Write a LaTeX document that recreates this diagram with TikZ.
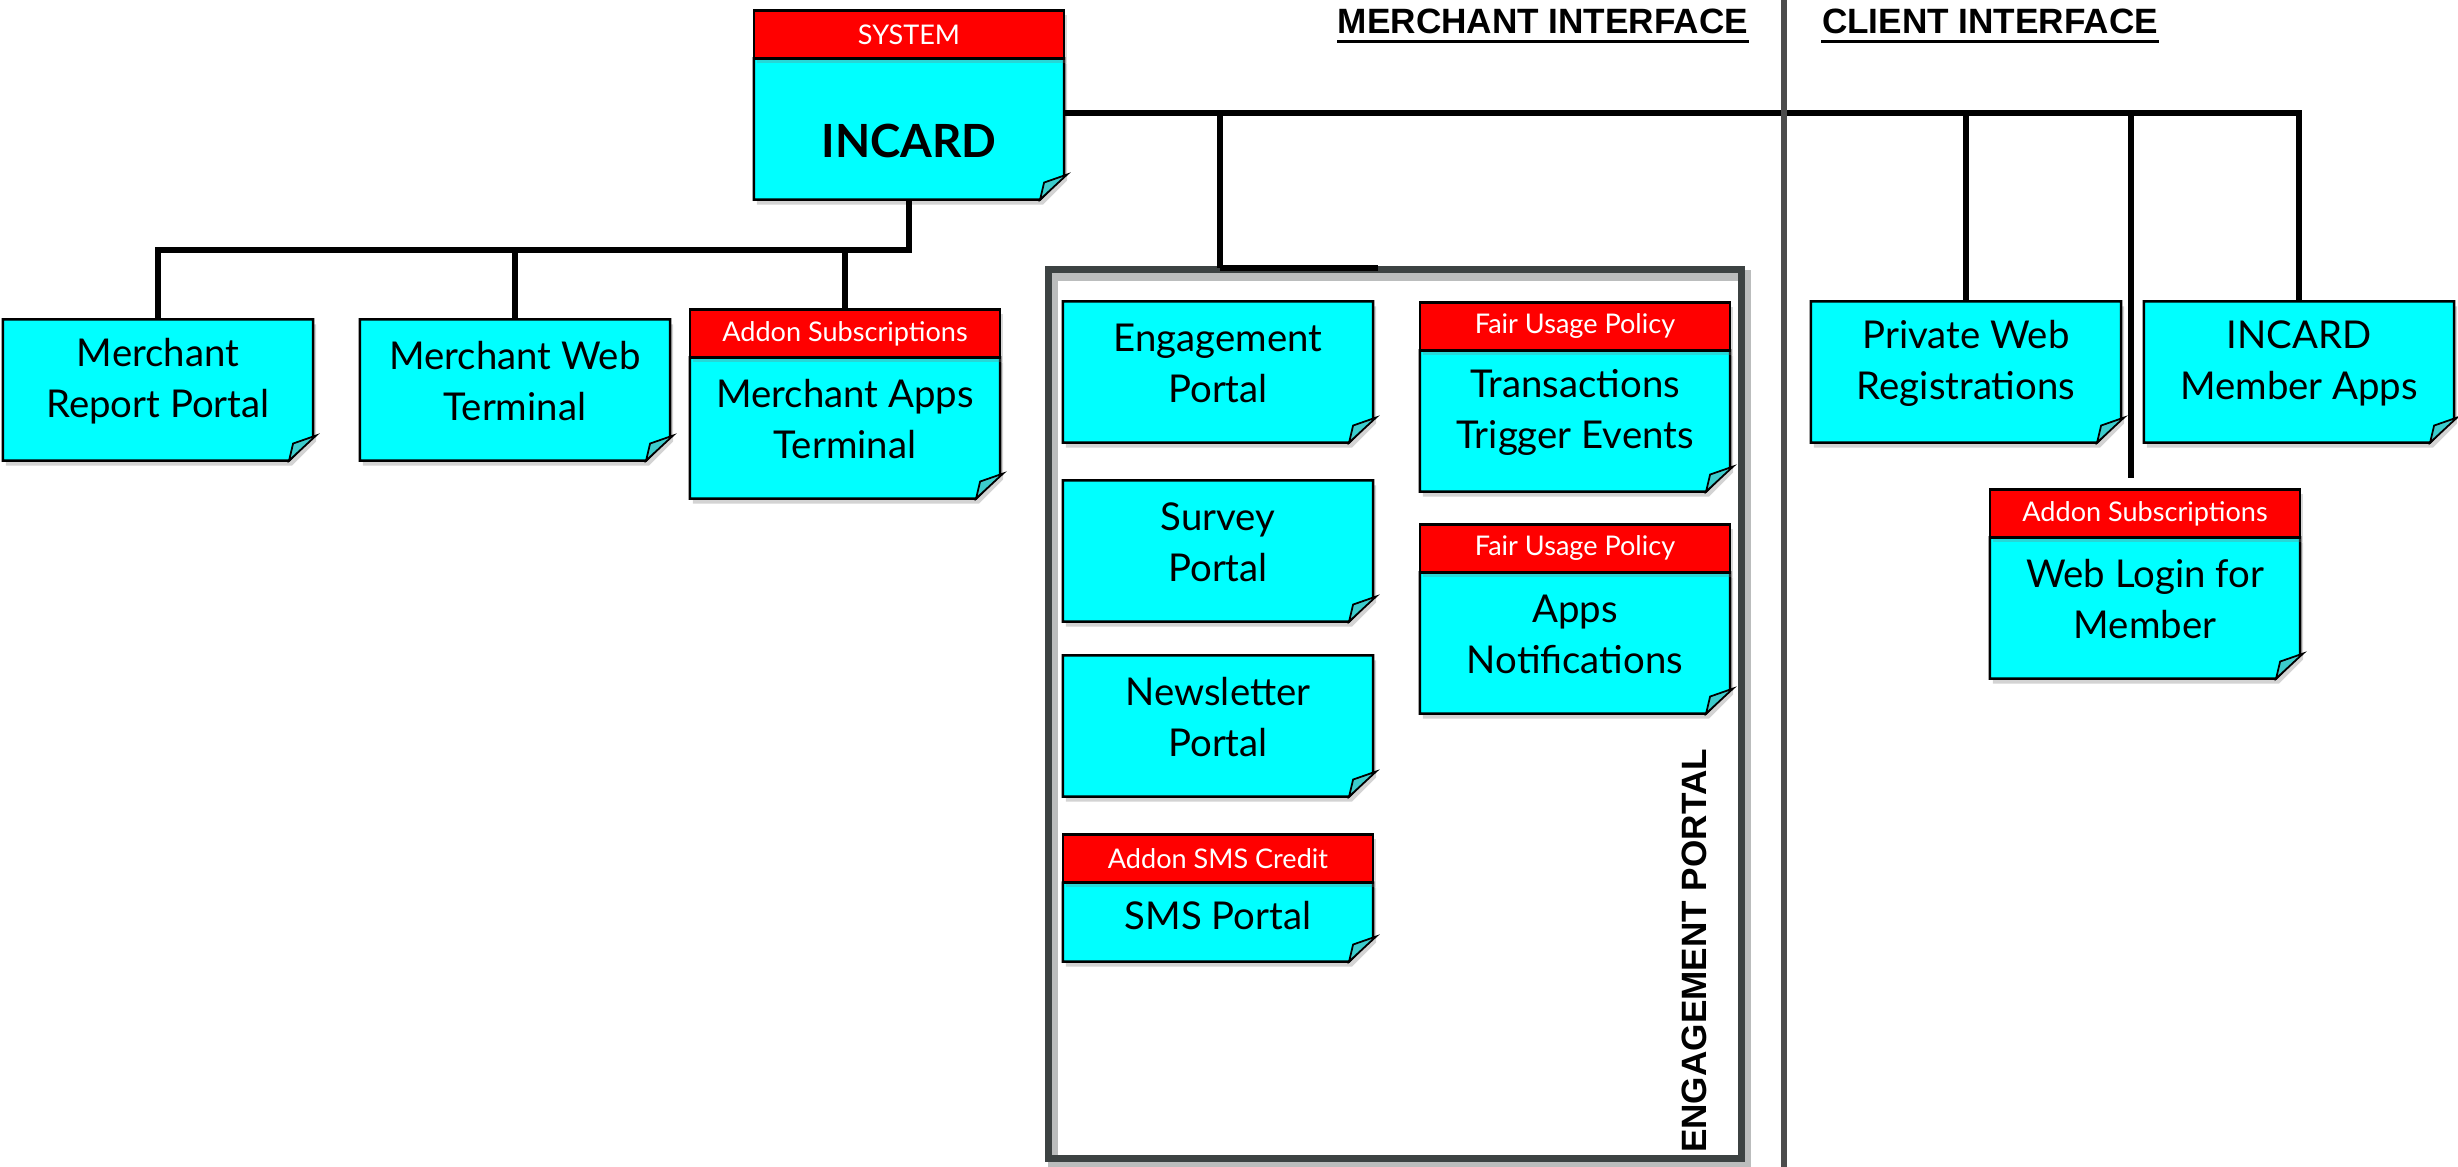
\documentclass[tikz,border=0pt]{standalone}
\usepackage{fontspec}
\setmainfont{Lato}
\newfontfamily\headfont{Liberation Sans}
\usetikzlibrary{positioning,backgrounds,shadows}

\definecolor{notecyan}{HTML}{00FFFF}
\definecolor{flapcyan}{HTML}{3CCCCC}
\definecolor{tagred}{HTML}{FF0000}
\definecolor{portalgray}{HTML}{3C4242}

\tikzstyle{sticky}=[minimum width=3.1cm,minimum height=1.41cm,inner sep=0pt,outer sep=0pt]
\tikzstyle{stickytext}=[inner sep=0pt,align=center,font={\fontsize{10.9}{14.5}\selectfont}]
\tikzstyle{stickytag}=[draw=black,line width=0.7pt,fill=tagred,text=white,minimum width=3.1cm,minimum height=0.48cm,inner sep=0pt,outer sep=0pt,font={\fontsize{7.7}{9}\selectfont},drop shadow={opacity=0.3,shadow xshift=0.03cm,shadow yshift=-0.05cm}]
\tikzstyle{stickybody}=[draw=black,line width=0.7pt,fill=notecyan,drop shadow={opacity=0.35,shadow xshift=0.03cm,shadow yshift=-0.05cm}]
\tikzstyle{flap}=[draw=black,line width=0.5pt,fill=flapcyan]
\tikzstyle{edge}=[draw,line width=1.5pt]
\tikzstyle{divider}=[draw=black!70,line width=1.5pt]
\tikzstyle{portal}=[draw=portalgray,line width=2pt]
\tikzstyle{heading}=[font={\headfont\bfseries\fontsize{10}{12}\selectfont},inner sep=0pt]

\begin{document}
\begin{tikzpicture}[x=0.01cm,y=-0.01cm]
\useasboundingbox (0,0) rectangle (2458,1167);

% engagement portal frame and its label
\node[minimum width=6.92cm,minimum height=8.88cm,inner sep=0pt,outer sep=0pt] (engbox) at (1395,714) {};
\node[heading,rotate=90] (englabel) at (1694,951) {ENGAGEMENT PORTAL};

% sticky notes
\node[sticky] (incard) at (909,129) {};
\node[stickytext,font={\bfseries\fontsize{13}{15}\selectfont},yshift=-0.12cm] (incard-text) at (incard) {INCARD};
\foreach \pos/\name/\txt in {{(158,390)/mrp/{Merchant\\Report Portal}}, {(515,390)/mwt/{Merchant Web\\Terminal}},
                             {(845,428)/mat/{Merchant Apps\\Terminal}}, {(1218,372)/eng/{Engagement\\Portal}},
                             {(1218,551)/srv/{Survey\\Portal}}, {(1218,726)/nws/{Newsletter\\Portal}},
                             {(1575,421)/trx/{Transactions\\Trigger Events}}, {(1575,643)/apn/{Apps\\Notifications}},
                             {(1966,372)/pwr/{Private Web\\Registrations}}, {(2299,372)/ima/{INCARD\\Member Apps}},
                             {(2145,608)/wlm/{Web Login for\\Member}}}{
  \node[sticky] (\name) at \pos {};
  \node[stickytext,yshift=0.09cm] (\name-text) at (\name) {\txt};
}
\node[sticky,minimum height=0.79cm] (sms) at (1218,922) {};
\node[stickytext,yshift=0.06cm] (sms-text) at (sms) {SMS Portal};

% red tags on top of some notes
\foreach \name/\txt in {incard/SYSTEM, mat/Addon Subscriptions, trx/Fair Usage Policy,
                        apn/Fair Usage Policy, sms/Addon SMS Credit, wlm/Addon Subscriptions}{
  \node[stickytag,above=0pt of \name] (\name-tag) {\txt};
}

\begin{scope}[on background layer]
\draw[portalgray!35,line width=3pt] ([xshift=0.04cm,yshift=-0.06cm]engbox.south west) rectangle ([xshift=0.04cm,yshift=-0.06cm]engbox.north east);
\draw[portal] (engbox.south west) rectangle (engbox.north east);
\foreach \name in {incard,mrp,mwt,mat,eng,srv,nws,sms,trx,apn,pwr,ima,wlm}{
  \path[stickybody] (\name.north west) -- (\name.north east) -- ([yshift=0.24cm]\name.south east)
    -- ([xshift=-0.24cm]\name.south east) -- (\name.south west) -- cycle;
  \path[flap] ([xshift=-0.24cm]\name.south east) -- ([xshift=-0.2cm,yshift=0.17cm]\name.south east)
    -- ([xshift=0.03cm,yshift=0.25cm]\name.south east) -- cycle;
}
\end{scope}

% connectors
\coordinate (lb) at (0,250);
\coordinate (bus) at (0,113);
\coordinate (engin) at (1220,268);
\coordinate (wlmin) at (2131,478);
\foreach \dest in {mrp,mwt,mat-tag}{
  \path[edge] (incard.south) -- (incard.south |- lb) -| (\dest.north);
}
\foreach \dest in {engin,pwr.north,wlmin,ima.north}{
  \path[edge] (incard.east |- bus) -| (\dest);
}
\path[edge] (engin) -- ++(158,0);

% interfaces
\draw[divider] (1784,0) -- (1784,1167);
\node[heading] (mhead) at (1543,21) {MERCHANT INTERFACE};
\node[heading] (chead) at (1990,21) {CLIENT INTERFACE};
\foreach \h in {mhead,chead}{
  \draw[line width=0.8pt] ([yshift=-2.5pt]\h.base west) -- ([yshift=-2.5pt]\h.base east);
}
\end{tikzpicture}
\end{document}
